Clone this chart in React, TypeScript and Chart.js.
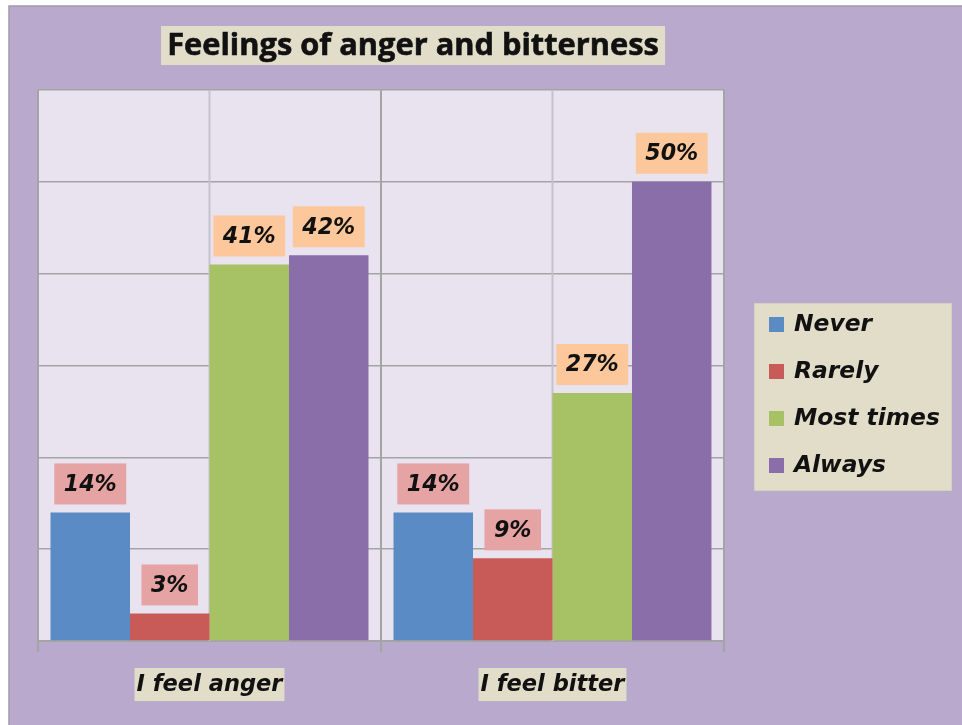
import React, { useEffect, useRef } from "react";
import { Chart, registerables } from "chart.js";

Chart.register(...registerables);

const categories = ["I feel anger", "I feel bitter"];
const seriesNames = ["Never", "Rarely", "Most times", "Always"];
const never = [14, 14];
const rarely = [3, 9];
const mostTimes = [41, 27];
const always = [42, 50];
const yMax = 60;
const yStep = 10;
const titleText = "Feelings of anger and bitterness";

const barColors = ["#5a8bc5", "#c85b58", "#a6c264", "#8a6eaa"];
const labelBg = ["#e6a3a3", "#e6a3a3", "#fcc89b", "#fcc89b"];
const PURPLE = "#b9a9cd";
const PLOT_BG = "#e8e3ef";
const BEIGE = "#e2ddc9";
const GRID = "#a4a4a4";
const TITLE_FONT = "'Open Sans', 'DejaVu Sans', sans-serif";
const IT_FONT = "'DejaVu Sans', 'Open Sans', sans-serif";

function fitSize(text: string, prefix: string, family: string, target: number): number {
  const c = document.createElement("canvas").getContext("2d")!;
  c.font = `${prefix} 20px ${family}`;
  const w = c.measureText(text).width;
  return (20 * target) / w;
}

const pagePlugin = {
  id: "pageBg",
  beforeDraw(chart: any) {
    const { ctx, width, height, chartArea } = chart;
    ctx.save();
    ctx.fillStyle = "#ffffff";
    ctx.fillRect(0, 0, width, height);
    ctx.fillStyle = PURPLE;
    ctx.fillRect(9, 6, width, height);
    ctx.strokeStyle = "#a09aa8";
    ctx.lineWidth = 1.5;
    ctx.beginPath();
    ctx.moveTo(9, height);
    ctx.lineTo(9, 6);
    ctx.lineTo(width, 6);
    ctx.stroke();
    ctx.fillStyle = PLOT_BG;
    ctx.fillRect(chartArea.left, chartArea.top, chartArea.right - chartArea.left, chartArea.bottom - chartArea.top);
    ctx.restore();
  },
  beforeDatasetsDraw(chart: any) {
    const { ctx, chartArea } = chart;
    const xs = chart.scales.x;
    ctx.save();
    ctx.strokeStyle = "#c6c1cc";
    ctx.lineWidth = 2;
    categories.forEach((_, i) => {
      const x = xs.getPixelForValue(i);
      ctx.beginPath();
      ctx.moveTo(x, chartArea.top);
      ctx.lineTo(x, chartArea.bottom);
      ctx.stroke();
    });
    ctx.restore();
  },
  afterDatasetsDraw(chart: any) {
    const { ctx } = chart;
    const size = fitSize("14%", "italic bold", IT_FONT, 53);
    ctx.save();
    ctx.font = `italic bold ${size}px ${IT_FONT}`;
    ctx.textAlign = "center";
    ctx.textBaseline = "middle";
    chart.data.datasets.forEach((ds: any, di: number) => {
      const meta = chart.getDatasetMeta(di);
      meta.data.forEach((bar: any, i: number) => {
        const txt = `${ds.data[i]}%`;
        const w = ctx.measureText(txt).width + 19;
        const h = 41;
        const bottom = bar.y - 8;
        ctx.fillStyle = labelBg[di];
        ctx.fillRect(bar.x - w / 2, bottom - h, w, h);
        ctx.fillStyle = "#111111";
        ctx.fillText(txt, bar.x, bottom - h / 2 + 1);
      });
    });
    ctx.restore();
  },
  afterDraw(chart: any) {
    const { ctx } = chart;
    ctx.save();
    // title
    const tsize = fitSize(titleText, "bold", TITLE_FONT, 492);
    ctx.font = `bold ${tsize}px ${TITLE_FONT}`;
    ctx.fillStyle = BEIGE;
    ctx.fillRect(161, 26, 504, 39);
    ctx.fillStyle = "#111111";
    ctx.textAlign = "center";
    ctx.textBaseline = "middle";
    ctx.fillText(titleText, 413, 46);
    ctx.strokeStyle = "#111111";
    ctx.lineWidth = 0.6;
    ctx.strokeText(titleText, 413, 46);
    // legend
    ctx.fillStyle = BEIGE;
    ctx.fillRect(754, 303, 198, 188);
    ctx.strokeStyle = "#d6d0c0";
    ctx.lineWidth = 1;
    ctx.strokeRect(754.5, 303.5, 197, 187);
    const lsize = fitSize("Most times", "italic bold", IT_FONT, 146);
    ctx.font = `italic bold ${lsize}px ${IT_FONT}`;
    ctx.textAlign = "left";
    seriesNames.forEach((name, i) => {
      const cy = 325 + i * 47;
      ctx.fillStyle = barColors[i];
      ctx.fillRect(769, cy - 8, 15, 15);
      ctx.fillStyle = "#111111";
      ctx.fillText(name, 794, cy);
    });
    ctx.restore();
  },
};

export default function App() {
  const ref = useRef<HTMLCanvasElement>(null);
  useEffect(() => {
    if (!ref.current) return;
    const series = [never, rarely, mostTimes, always];
    const xSize = fitSize(categories[0], "italic bold", IT_FONT, 146);
    const chart = new Chart(ref.current, {
      type: "bar",
      data: {
        labels: categories,
        datasets: seriesNames.map((name, i) => ({
          label: name,
          data: series[i],
          backgroundColor: barColors[i],
          borderWidth: 0,
          categoryPercentage: 0.927,
          barPercentage: 1.0,
        })),
      },
      options: {
        responsive: false,
        animation: false,
        devicePixelRatio: 1,
        layout: { padding: { left: 38, top: 90, right: 238, bottom: 0 } },
        plugins: {
          legend: { display: false },
          title: { display: false },
          tooltip: { enabled: false },
        },
        scales: {
          x: {
            type: "category",
            offset: true,
            afterFit: (s: any) => {
              s.height = 84;
            },
            grid: {
              offset: true,
              color: GRID,
              lineWidth: 2,
              drawTicks: true,
              tickLength: 11,
              tickColor: GRID,
            },
            border: { display: true, color: GRID, width: 2 },
            ticks: {
              font: { family: IT_FONT, size: xSize, weight: "bold", style: "italic" },
              color: "#111111",
              padding: 20,
              showLabelBackdrop: true,
              backdropColor: BEIGE,
              backdropPadding: { top: 4, bottom: 2, left: 2, right: 2 },
            },
          },
          y: {
            min: 0,
            max: yMax,
            afterFit: (s: any) => {
              s.width = 0;
            },
            ticks: { display: false, stepSize: yStep },
            grid: { color: GRID, lineWidth: 1.5, drawTicks: false },
            border: { display: false },
          },
        },
      } as any,
      plugins: [pagePlugin],
    });
    return () => chart.destroy();
  }, []);
  return (
    <canvas
      ref={ref}
      width={962}
      height={725}
      style={{ position: "fixed", left: 0, top: 0, width: 962, height: 725 }}
    />
  );
}
